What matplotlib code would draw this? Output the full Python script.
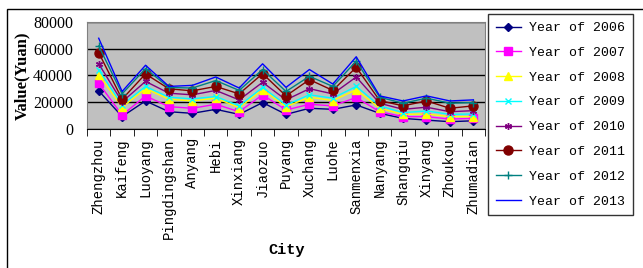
import numpy as np
import matplotlib.pyplot as plt
from matplotlib.patches import Rectangle

cities = ["Zhengzhou", "Kaifeng", "Luoyang", "Pingdingshan", "Anyang", "Hebi",
          "Xinxiang", "Jiaozuo", "Puyang", "Xuchang", "Luohe", "Sanmenxia",
          "Nanyang", "Shangqiu", "Xinyang", "Zhoukou", "Zhumadian"]

v2006 = [28300, 9000, 20700, 12600, 11400, 14400, 10600, 19500, 10600, 15200,
         14400, 17700, 11400, 7600, 6300, 5100, 5800]
v2007 = [34000, 10000, 24500, 16400, 15200, 18200, 12600, 25300, 13900, 18200,
         17000, 23300, 12600, 8900, 8900, 7100, 7600]
v2008 = [40500, 16000, 30000, 22000, 20700, 22800, 15700, 29100, 16400, 23500,
         21000, 29100, 15200, 10600, 10900, 8900, 8900]
v2009 = [44000, 17700, 31600, 23500, 22300, 24000, 17000, 30900, 17700, 25300,
         22800, 31600, 17000, 11900, 13200, 10600, 10900]
v2010 = [48600, 20000, 35400, 26500, 25300, 28600, 21500, 34700, 21500, 29900,
         26000, 38700, 19000, 14400, 16000, 12600, 13400]
v2011 = [57000, 22000, 41000, 29800, 28300, 31600, 26000, 41200, 24500, 36700,
         28600, 46000, 21000, 17000, 20700, 15200, 17000]
v2012 = [62000, 26000, 45000, 30800, 30400, 36000, 28600, 44300, 27800, 39200,
         31600, 50600, 23500, 19000, 22800, 19000, 19500]
v2013 = [67800, 27800, 47500, 31600, 32400, 38700, 30400, 48600, 30900, 44300,
         33400, 53900, 24500, 20700, 24500, 20700, 21500]

years = ["2006", "2007", "2008", "2009", "2010", "2011", "2012", "2013"]
yticks = [0, 20000, 40000, 60000, 80000]

series = [v2006, v2007, v2008, v2009, v2010, v2011, v2012, v2013]
styles = [
    dict(color="#000080", marker="D", ms=4.5),
    dict(color="#FF00FF", marker="s", ms=6),
    dict(color="#FFFF00", marker="^", ms=5.5),
    dict(color="#00FFFF", marker="x", ms=4, mew=1),
    dict(color="#800080", marker=(6, 2, 0), ms=5, mew=1),
    dict(color="#800000", marker="o", ms=6.5),
    dict(color="#008080", marker="+", ms=6, mew=1),
    dict(color="#0000FF", marker="None", ms=0),
]

fig = plt.figure(figsize=(6.43, 2.68), dpi=100)
# outer chart-area border
fig.patches.append(Rectangle((7 / 643, -0.1), 1.2, 0.1 + 1 - 9 / 268,
                             transform=fig.transFigure, fill=False,
                             edgecolor="black", linewidth=1.0))

ax = fig.add_axes([87 / 643, 1 - 128.5 / 268, (485 - 87) / 643, (128.5 - 22) / 268])
ax.set_facecolor("#C0C0C0")

x = np.arange(len(cities))
for vals, yr, st in zip(series, years, styles):
    ax.plot(x, vals, linewidth=1.0, label=f"Year of {yr}", **st)

ax.set_xlim(-0.5, len(cities) - 0.5)
ax.set_ylim(0, 80000)
ax.set_yticks(yticks)
ax.set_yticklabels([str(t) for t in yticks], family="Liberation Serif", fontsize=11.5)
ax.yaxis.grid(True, color="black", linewidth=1.0)
ax.set_axisbelow(True)
ax.tick_params(axis="y", length=0, pad=10)

ax.set_xticks(x)
ax.set_xticklabels(cities, rotation=90, family="Liberation Mono", fontsize=10)
ax.set_xticks(np.arange(len(cities) + 1) - 0.5, minor=True)
ax.tick_params(axis="x", which="major", length=0, pad=7)
ax.tick_params(axis="x", which="minor", length=5, direction="out", color="black")

for side in ["top", "left", "right"]:
    ax.spines[side].set_color("#808080")
ax.spines["bottom"].set_color("black")

ax.set_ylabel("Value(Yuan)", family="Liberation Serif", fontweight="bold",
              fontsize=12, labelpad=2)
fig.text(287 / 643, 1 - 250 / 268, "City", family="Liberation Mono",
         fontweight="bold", fontsize=11, ha="center", va="center")

leg = fig.legend(loc="upper left", bbox_to_anchor=(488 / 643, 1 - 14 / 268),
                 prop={"family": "Liberation Mono", "size": 9.5},
                 frameon=True, fancybox=False, edgecolor="black",
                 labelspacing=0.95, handlelength=1.9, borderpad=0.6,
                 handletextpad=0.6, borderaxespad=0)
leg.get_frame().set_linewidth(1.0)

fig.savefig("out.png", dpi=100)
